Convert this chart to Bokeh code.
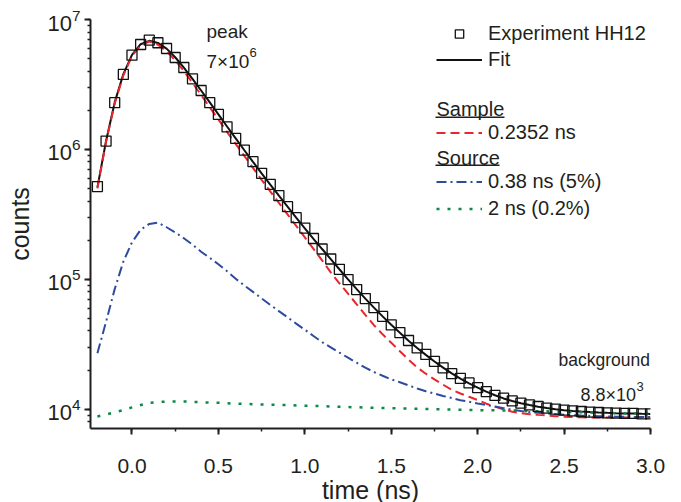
from bokeh.plotting import figure
from bokeh.models import (Range1d, SingleIntervalTicker, PrintfTickFormatter, LogTicker,
                          Legend, LegendItem, Label, BoxAnnotation)
from bokeh.embed import file_html
from bokeh.resources import INLINE

# ---------------- data ----------------
time_exp = [-0.20, -0.15, -0.10, -0.05, 0.00, 0.05, 0.10, 0.15, 0.20, 0.25, 0.30, 0.35, 0.40,
            0.45, 0.50, 0.55, 0.60, 0.65, 0.70, 0.75, 0.80, 0.85, 0.90, 0.95, 1.00, 1.05,
            1.10, 1.15, 1.20, 1.25, 1.30, 1.35, 1.40, 1.45, 1.50, 1.55, 1.60, 1.65, 1.70,
            1.75, 1.80, 1.85, 1.90, 1.95, 2.00, 2.05, 2.10, 2.15, 2.20, 2.25, 2.30, 2.35,
            2.40, 2.45, 2.50, 2.55, 2.60, 2.65, 2.70, 2.75, 2.80, 2.85, 2.90, 2.95, 3.00]

counts_exp = [5.17e5, 1.158e6, 2.29e6, 3.78e6, 5.31e6, 6.42e6, 6.93e6, 6.62e6, 5.98e6, 5.10e6,
              4.27e6, 3.49e6, 2.84e6, 2.29e6, 1.86e6, 1.49e6, 1.215e6, 9.88e5, 8.04e5, 6.54e5,
              5.38e5, 4.40e5, 3.62e5, 2.98e5, 2.48e5, 2.06e5, 1.71e5, 1.433e5, 1.193e5, 9.95e4,
              8.33e4, 7.10e4, 6.06e4, 5.19e4, 4.45e4, 3.89e4, 3.38e4, 2.96e4, 2.64e4, 2.33e4,
              2.08e4, 1.876e4, 1.726e4, 1.594e4, 1.464e4, 1.363e4, 1.275e4, 1.215e4, 1.158e4,
              1.112e4, 1.079e4, 1.049e4, 1.018e4, 1.00e4, 9.82e3, 9.70e3, 9.60e3, 9.48e3,
              9.43e3, 9.37e3, 9.32e3, 9.27e3, 9.27e3, 9.20e3, 9.20e3]

counts_fit = [5.10e5, 1.16e6, 2.30e6, 3.80e6, 5.35e6, 6.45e6, 6.85e6, 6.60e6, 5.97e6, 5.12e6,
              4.26e6, 3.49e6, 2.84e6, 2.30e6, 1.86e6, 1.50e6, 1.215e6, 9.85e5, 8.02e5, 6.54e5,
              5.36e5, 4.40e5, 3.62e5, 2.98e5, 2.47e5, 2.05e5, 1.71e5, 1.43e5, 1.195e5, 1.00e5,
              8.40e4, 7.10e4, 6.05e4, 5.18e4, 4.46e4, 3.87e4, 3.37e4, 2.96e4, 2.62e4, 2.33e4,
              2.09e4, 1.885e4, 1.72e4, 1.58e4, 1.465e4, 1.365e4, 1.28e4, 1.21e4, 1.155e4,
              1.11e4, 1.075e4, 1.045e4, 1.02e4, 1.00e4, 9.83e3, 9.70e3, 9.59e3, 9.50e3,
              9.43e3, 9.37e3, 9.32e3, 9.28e3, 9.25e3, 9.22e3, 9.20e3]

counts_sample = [5.01e5, 1.142e6, 2.259e6, 3.709e6, 5.238e6, 6.31e6, 6.77e6, 6.39e6, 5.72e6, 4.84e6,
                 4.02e6, 3.25e6, 2.626e6, 2.105e6, 1.701e6, 1.363e6, 1.102e6, 8.91e5, 7.21e5, 5.83e5,
                 4.75e5, 3.88e5, 3.16e5, 2.58e5, 2.105e5, 1.716e5, 1.40e5, 1.132e5, 9.32e4, 7.74e4,
                 6.42e4, 5.33e4, 4.43e4, 3.77e4, 3.25e4, 2.795e4, 2.403e4, 2.094e4, 1.876e4, 1.696e4,
                 1.543e4, 1.41e4, 1.321e4, 1.246e4, 1.177e4, 1.102e4, 1.047e4, 9.95e3, 9.57e3,
                 9.32e3, 9.14e3, 9.04e3, 8.95e3, 8.84e3, 8.74e3, 8.70e3, 8.65e3, 8.64e3,
                 8.64e3, 8.64e3, 8.64e3, 8.64e3, 8.64e3, 8.64e3, 8.64e3]

counts_src1 = [2.696e4, 4.71e4, 8.40e4, 1.368e5, 1.925e5, 2.407e5, 2.668e5, 2.73e5, 2.516e5, 2.299e5,
               2.072e5, 1.846e5, 1.631e5, 1.461e5, 1.305e5, 1.154e5, 1.009e5, 8.96e4, 8.00e4, 7.13e4,
               6.36e4, 5.69e4, 5.10e4, 4.56e4, 4.09e4, 3.66e4, 3.28e4, 2.99e4, 2.725e4, 2.49e4,
               2.279e4, 2.086e4, 1.933e4, 1.81e4, 1.696e4, 1.613e4, 1.524e4, 1.443e4, 1.376e4,
               1.318e4, 1.264e4, 1.217e4, 1.173e4, 1.14e4, 1.108e4, 1.079e4, 1.047e4, 1.018e4,
               9.91e3, 9.70e3, 9.50e3, 9.37e3, 9.27e3, 9.15e3, 9.07e3, 8.99e3, 8.93e3, 8.88e3,
               8.84e3, 8.79e3, 8.76e3, 8.74e3, 8.72e3, 8.72e3, 8.72e3]

time_src2 = [-0.2, -0.1, 0.0, 0.1, 0.2, 0.3, 0.4, 0.5, 0.6, 0.7, 0.8, 0.9, 1.0, 1.1, 1.2, 1.3, 1.4,
             1.5, 1.6, 1.7, 1.8, 1.9, 2.0, 2.1, 2.2, 2.3, 2.4, 2.5, 2.6, 2.7, 2.8, 2.9, 3.0]
counts_src2 = [8.79e3, 9.43e3, 1.032e4, 1.12e4, 1.146e4, 1.146e4, 1.13e4, 1.12e4, 1.102e4, 1.093e4,
               1.083e4, 1.074e4, 1.064e4, 1.055e4, 1.043e4, 1.034e4, 1.025e4, 1.018e4, 1.011e4,
               1.003e4, 9.98e3, 9.91e3, 9.84e3, 9.79e3, 9.74e3, 9.67e3, 9.62e3, 9.55e3, 9.47e3,
               9.38e3, 9.32e3, 9.27e3, 9.20e3]

legend_labels = ["Experiment HH12", "Fit", "0.2352 ns", "0.38 ns (5%)", "2 ns (0.2%)"]

# ---------------- styling ----------------
FONT = "Liberation Sans"
TXT = "#231f20"
RED = "#e8262d"
BLUE = "#2d4b9f"
GREEN = "#0b8a46"

p = figure(frame_width=560, frame_height=409, y_axis_type="log",
           x_range=Range1d(-0.24, 3.0), y_range=Range1d(7.1e3, 1e7),
           output_backend="svg", toolbar_location=None,
           min_border_left=90, min_border_right=20, min_border_top=19, min_border_bottom=0)
p.outline_line_color = None
p.xgrid.visible = False
p.ygrid.visible = False
p.background_fill_color = "white"
p.border_fill_color = "white"

# axes
p.xaxis.ticker = SingleIntervalTicker(interval=0.5, num_minor_ticks=2)
p.xaxis.formatter = PrintfTickFormatter(format="%.1f")
p.yaxis.ticker = LogTicker(num_minor_ticks=10)
p.xaxis.axis_label = "time (ns)"
p.yaxis.axis_label = "counts"
for ax in (p.xaxis, p.yaxis):
    ax.axis_line_width = 2
    ax.axis_line_color = TXT
    ax.major_tick_line_width = 2
    ax.major_tick_line_color = TXT
    ax.minor_tick_line_width = 1.5
    ax.minor_tick_line_color = TXT
    ax.major_tick_in = 0
    ax.major_tick_out = 6
    ax.minor_tick_in = 0
    ax.minor_tick_out = 3
    ax.major_label_text_font = FONT
    ax.major_label_text_color = TXT
    ax.axis_label_text_font = FONT
    ax.axis_label_text_font_size = "25px"
    ax.axis_label_text_font_style = "normal"
    ax.axis_label_text_color = TXT
p.xaxis.major_label_text_font_size = "21px"
p.yaxis.major_label_text_font_size = "22px"
p.xaxis.major_label_standoff = 24
p.xaxis.axis_label_standoff = 0
p.yaxis.major_label_standoff = 4
p.yaxis.axis_label_standoff = 10

# ---------------- glyphs ----------------
r_fit = p.line(time_exp, counts_fit, line_color="#111111", line_width=2)
r_sample = p.line(time_exp, counts_sample, line_color=RED, line_width=2, line_dash="9 5")
r_src1 = p.line(time_exp, counts_src1, line_color=BLUE, line_width=2, line_dash="10 4 2 4")
r_src2 = p.line(time_src2, counts_src2, line_color=GREEN, line_width=2.5, line_dash="3 8")
r_exp = p.scatter(time_exp, counts_exp, marker="square", size=10, fill_alpha=0,
                  line_color="#111111", line_width=1.3)

# ---------------- legends ----------------
common = dict(glyph_width=46, label_standoff=6, padding=0, margin=0,
              border_line_color=None, background_fill_alpha=0,
              label_text_font=FONT, label_text_font_size="20px", label_text_color=TXT,
              label_text_baseline="middle")

leg1 = Legend(items=[LegendItem(label=legend_labels[0], renderers=[r_exp]),
                     LegendItem(label=legend_labels[1], renderers=[r_fit])],
              location=(346, 357), glyph_height=21, label_height=21, spacing=3, **common)
leg2 = Legend(items=[LegendItem(label=legend_labels[2], renderers=[r_sample])],
              location=(346, 284), glyph_height=21, label_height=21, spacing=3, **common)
leg3 = Legend(items=[LegendItem(label=legend_labels[3], renderers=[r_src1]),
                      LegendItem(label=legend_labels[4], renderers=[r_src2])],
              location=(346, 208), glyph_height=23, label_height=23, spacing=4, **common)
for lg in (leg1, leg2, leg3):
    p.add_layout(lg)

def lab(x, y, text, size="20px"):
    p.add_layout(Label(x=x, y=y, x_units="screen", y_units="screen", text=text,
                       text_font=FONT, text_font_size=size, text_color=TXT,
                       text_baseline="middle", text_align="left"))

def underline(left, right, y):
    p.add_layout(BoxAnnotation(left=left, right=right, bottom=y - 0.8, top=y + 0.8,
                               left_units="screen", right_units="screen",
                               bottom_units="screen", top_units="screen",
                               fill_color=TXT, fill_alpha=1, line_alpha=0))

lab(346, 319.5, "Sample")
lab(346, 270.5, "Source")
underline(345, 414, 311.2)
underline(345, 409, 263.2)

# annotations
lab(116, 397, "peak", "19px")
lab(116, 367, "7\u00d710", "19px")
lab(159, 376, "6", "13px")
lab(468, 69, "background", "17.5px")
lab(490, 34, "8.8\u00d710", "18px")
lab(546, 42, "3", "13px")

open("out.html", "w").write(file_html(p, INLINE))
